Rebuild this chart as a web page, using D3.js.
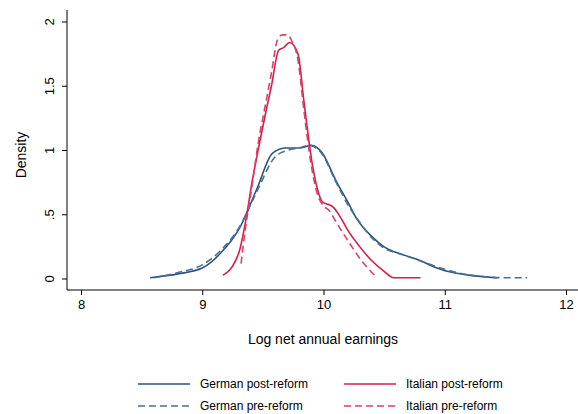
<!DOCTYPE html><html><head><meta charset="utf-8"><script src="https://cdn.jsdelivr.net/npm/d3@7"></script>
<style>body{margin:0;background:#fff}text{font-family:Arial,"Liberation Sans",sans-serif}</style></head><body><svg width="578" height="414"></svg><script>
const xTicks=[8,9,10,11,12], yTicks=[0,0.5,1,1.5,2], yLabels=["0",".5","1","1.5","2"];
const gerPostX=[8.57,8.8,9.0,9.15,9.31,9.45,9.58,9.69,9.8,9.9,9.99,10.1,10.2,10.28,10.4,10.5,10.65,10.78,10.9,11.02,11.2,11.43];
const gerPostY=[0.01,0.04,0.085,0.2,0.4,0.7,0.98,1.02,1.02,1.04,0.98,0.77,0.6,0.46,0.33,0.25,0.19,0.15,0.1,0.06,0.03,0.01];
const gerPreX=[8.6,8.8,9.0,9.15,9.31,9.45,9.6,9.7,9.8,9.88,9.99,10.1,10.2,10.3,10.4,10.5,10.65,10.8,10.95,11.1,11.3,11.5,11.68];
const gerPreY=[0.01,0.05,0.11,0.22,0.41,0.68,0.95,1.0,1.02,1.04,0.97,0.76,0.58,0.44,0.32,0.24,0.19,0.14,0.09,0.05,0.02,0.01,0.01];
const itaPostX=[9.17,9.25,9.31,9.36,9.41,9.46,9.52,9.57,9.63,9.67,9.72,9.79,9.84,9.91,9.95,9.99,10.04,10.08,10.14,10.2,10.3,10.39,10.5,10.58,10.8];
const itaPostY=[0.03,0.1,0.23,0.46,0.75,1.0,1.28,1.5,1.78,1.8,1.84,1.75,1.37,0.88,0.7,0.6,0.58,0.56,0.48,0.38,0.25,0.15,0.06,0.01,0.01];
const itaPreX=[9.32,9.36,9.41,9.46,9.52,9.57,9.62,9.66,9.7,9.74,9.79,9.84,9.9,9.95,10.0,10.05,10.1,10.2,10.3,10.43];
const itaPreY=[0.12,0.42,0.72,1.05,1.35,1.6,1.86,1.9,1.9,1.85,1.7,1.3,0.88,0.66,0.57,0.53,0.45,0.3,0.16,0.02];
const series=[
 {name:"German post-reform",x:gerPostX,y:gerPostY,c:"#2b5580",d:null},
 {name:"German pre-reform",x:gerPreX,y:gerPreY,c:"#4a6f94",d:"7,4"},
 {name:"Italian post-reform",x:itaPostX,y:itaPostY,c:"#d41f46",d:null},
 {name:"Italian pre-reform",x:itaPreX,y:itaPreY,c:"#d8436a",d:"7,4"}];
const svg=d3.select("svg");
const x=d3.scaleLinear().domain([8,12]).range([81,566]);
const y=d3.scaleLinear().domain([0,2]).range([279,22]);
const gx=svg.append("g").attr("transform","translate(0,290)").call(d3.axisBottom(x).tickValues(xTicks).tickFormat(d3.format("d")).tickSize(5).tickPadding(5));
gx.select(".domain").attr("d","M67,0H578");
gx.selectAll("text").attr("font-size",13).attr("fill","#000");
const gy=svg.append("g").attr("transform","translate(67,0)").call(d3.axisLeft(y).tickValues(yTicks).tickFormat((d,i)=>yLabels[i]).tickSize(5).tickPadding(4));
gy.select(".domain").attr("d","M0,10V290");
gy.selectAll("text").attr("font-size",13).attr("fill","#000")
 .each(function(d){const t=d3.select(this);const yy=y(d);t.attr("x",0).attr("y",0).attr("dy",0).attr("text-anchor","middle").attr("transform",`translate(-13,${yy}) rotate(-90)`);});
gy.selectAll(".tick").attr("transform",null).select("line").attr("transform",d=>`translate(0,${y(d)})`);
svg.append("text").attr("x",323).attr("y",344).attr("text-anchor","middle").attr("font-size",14).text("Log net annual earnings");
svg.append("text").attr("transform","translate(26,155) rotate(-90)").attr("text-anchor","middle").attr("font-size",14).text("Density");
const line=d3.line().x(d=>x(d[0])).y(d=>y(d[1])).curve(d3.curveMonotoneX);
series.forEach(s=>{svg.append("path").attr("d",line(s.x.map((v,i)=>[v,s.y[i]]))).attr("fill","none").attr("stroke",s.c).attr("stroke-width",1.6).attr("stroke-dasharray",s.d);});
const leg=[[0,138,384],[2,344,384],[1,138,406],[3,344,406]];
leg.forEach(([i,lx,ly])=>{const s=series[i];
 svg.append("line").attr("x1",lx).attr("x2",lx+52).attr("y1",ly).attr("y2",ly).attr("stroke",s.c).attr("stroke-width",1.6).attr("stroke-dasharray",s.d);
 svg.append("text").attr("x",lx+62).attr("y",ly+4).attr("font-size",12).text(s.name);});
</script></body></html>
